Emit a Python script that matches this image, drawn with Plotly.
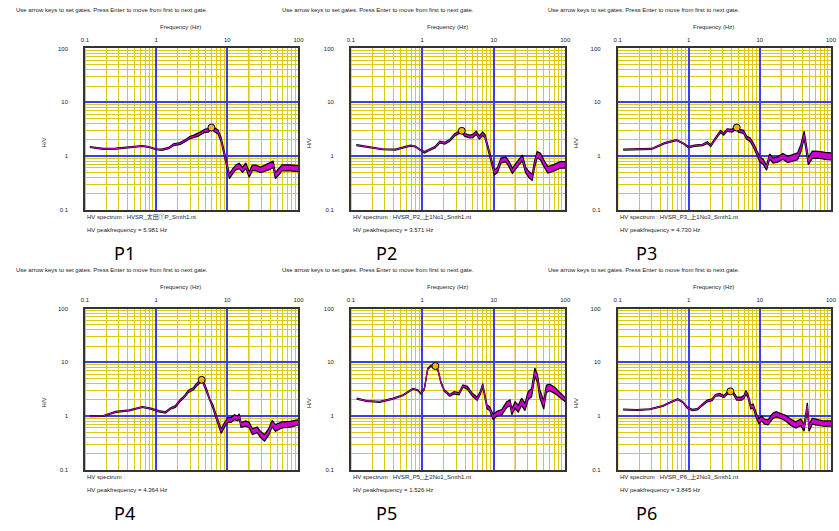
import plotly.graph_objects as go

W, H = 839, 531

# ---------------- data (freq Hz, H/V, band factor) ----------------
p1 = [(0.117,1.47,1.02),(0.18,1.35,1.02),(0.27,1.37,1.02),(0.42,1.47,1.02),(0.64,1.53,1.02),
      (0.79,1.47,1.02),(1.0,1.33,1.02),(1.21,1.30,1.03),(1.5,1.40,1.03),(1.76,1.62,1.04),
      (2.18,1.7,1.04),(2.69,2.0,1.04),(3.0,2.21,1.05),(3.33,2.3,1.05),(3.9,2.47,1.06),
      (4.35,2.7,1.06),(4.8,2.93,1.07),(5.4,3.0,1.08),(5.98,3.37,1.08),(6.6,3.05,1.08),
      (7.4,2.8,1.09),(8.2,2.0,1.09),(8.95,1.22,1.11),(9.6,0.8,1.11),(10.7,0.42,1.11),
      (11.9,0.52,1.11),(13.2,0.61,1.11),(14.7,0.65,1.12),(16.4,0.55,1.11),(18.2,0.66,1.12),
      (20.3,0.45,1.12),(22.5,0.6,1.12),(25.1,0.6,1.13),(29.4,0.55,1.13),(34.5,0.6,1.14),
      (40,0.64,1.14),(44,0.7,1.14),(47.4,0.43,1.14),(52.8,0.5,1.14),(58.7,0.6,1.14),
      (76.6,0.6,1.14),(100,0.58,1.14)]
p2 = [(0.12,1.59,1.02),(0.18,1.45,1.02),(0.275,1.33,1.02),(0.42,1.31,1.02),(0.55,1.45,1.02),
      (0.68,1.55,1.02),(0.8,1.5,1.02),(0.93,1.29,1.02),(1.07,1.17,1.03),(1.28,1.31,1.03),
      (1.5,1.45,1.03),(1.76,1.81,1.04),(2.07,1.73,1.04),(2.42,1.95,1.04),(2.84,2.47,1.05),
      (3.16,2.67,1.05),(3.57,2.93,1.06),(3.9,2.47,1.06),(4.58,2.3,1.06),(5.1,2.35,1.07),
      (5.67,2.7,1.07),(6.3,2.2,1.07),(7.0,2.6,1.08),(7.56,2.3,1.08),(8.2,1.5,1.09),
      (9.13,0.92,1.09),(10.2,0.49,1.11),(11.3,0.55,1.11),(12.6,0.82,1.11),(14.8,0.86,1.11),
      (16.4,0.7,1.12),(18.2,0.53,1.12),(20.3,0.64,1.12),(22.5,0.74,1.13),(25.1,0.92,1.13),
      (27.9,0.55,1.13),(31,0.45,1.14),(34.5,0.4,1.14),(37.2,0.7,1.15),(40.5,1.05,1.15),
      (45,0.98,1.15),(50,0.74,1.15),(56.9,0.55,1.15),(68.9,0.6,1.15),(85,0.68,1.15),
      (100,0.68,1.15)]
p3 = [(0.12,1.31,1.02),(0.197,1.31,1.02),(0.3,1.35,1.02),(0.46,1.73,1.02),(0.67,1.97,1.02),
      (0.83,1.73,1.02),(0.99,1.45,1.03),(1.2,1.55,1.03),(1.56,1.6,1.03),(1.83,1.77,1.04),
      (2.04,1.55,1.04),(2.39,2.14,1.04),(2.8,2.84,1.05),(3.1,2.55,1.05),(3.46,3.05,1.05),
      (4.06,2.95,1.06),(4.73,3.37,1.06),(5.0,2.95,1.07),(5.9,2.8,1.07),(6.5,2.2,1.07),
      (7.3,2.0,1.08),(8.1,1.6,1.09),(9.0,1.2,1.09),(10,0.86,1.11),(11.1,0.78,1.11),
      (12.4,0.6,1.11),(13.7,0.98,1.11),(15.3,0.82,1.11),(17.9,0.86,1.12),(21,0.98,1.13),
      (24.6,0.86,1.14),(28.9,0.92,1.15),(33.9,0.98,1.16),(37.7,1.4,1.17),(41.9,2.47,1.17),
      (44.2,1.6,1.17),(48,0.8,1.17),(54.6,1.05,1.17),(67.5,1.05,1.16),(83,1.0,1.16),
      (100,0.98,1.16)]
p4 = [(0.117,0.99,1.02),(0.18,1.0,1.02),(0.27,1.19,1.02),(0.42,1.27,1.02),(0.64,1.47,1.02),
      (0.84,1.37,1.02),(1.09,1.22,1.03),(1.35,1.16,1.03),(1.58,1.37,1.03),(1.86,1.5,1.04),
      (2.18,1.95,1.04),(2.5,2.3,1.04),(2.84,2.87,1.05),(3.33,3.2,1.05),(3.7,3.8,1.06),
      (4.364,4.7,1.06),(4.58,4.25,1.06),(5.1,3.0,1.07),(5.67,1.95,1.07),(6.3,1.47,1.08),
      (7.0,0.95,1.09),(7.55,0.68,1.09),(8.2,0.52,1.10),(9.1,0.68,1.10),(10.2,0.84,1.11),
      (11.3,0.84,1.11),(12.6,0.95,1.11),(14,0.9,1.11),(14.7,0.99,1.11),(15.6,0.68,1.11),
      (18.2,0.72,1.12),(20.3,0.68,1.12),(22.5,0.51,1.13),(26.3,0.55,1.13),(29.4,0.45,1.14),
      (33.4,0.39,1.15),(38.4,0.51,1.15),(42.6,0.72,1.15),(47.4,0.6,1.15),(58.7,0.68,1.14),
      (76.6,0.7,1.13),(100,0.76,1.12)]
p5 = [(0.121,2.1,1.02),(0.167,1.9,1.02),(0.255,1.83,1.02),(0.39,2.1,1.02),(0.537,2.42,1.02),
      (0.74,3.2,1.02),(0.865,3.0,1.02),(0.96,2.6,1.02),(1.07,3.2,1.03),(1.19,7.5,1.03),
      (1.32,8.6,1.03),(1.526,8.5,1.03),(1.67,6.9,1.04),(1.82,4.26,1.04),(2.02,3.0,1.04),
      (2.42,2.42,1.04),(2.78,2.7,1.05),(3.26,2.6,1.05),(3.7,3.6,1.05),(4.26,3.35,1.06),
      (4.99,2.5,1.06),(5.85,2.1,1.07),(6.5,2.7,1.07),(7.0,3.7,1.08),(7.48,2.42,1.08),
      (8.05,1.47,1.09),(8.77,1.37,1.09),(9.75,0.96,1.11),(11.1,1.1,1.11),(13,1.18,1.12),
      (15.2,1.63,1.13),(16.9,1.75,1.14),(17.9,1.2,1.14),(19.9,1.6,1.15),(22,1.37,1.16),
      (24.5,1.83,1.17),(27.3,1.47,1.17),(30.4,2.42,1.19),(33.8,2.7,1.19),(37.6,6.5,1.19),
      (40.9,5.0,1.19),(44,2.6,1.19),(50,1.6,1.19),(54.5,3.2,1.17),(60.6,3.4,1.15),
      (71,3.0,1.14),(83,2.5,1.11),(100,2.0,1.09)]
p6 = [(0.119,1.32,1.02),(0.185,1.29,1.02),(0.283,1.33,1.02),(0.43,1.53,1.02),(0.565,1.82,1.02),
      (0.7,2.05,1.02),(0.82,1.82,1.02),(0.96,1.41,1.03),(1.13,1.29,1.03),(1.32,1.33,1.03),
      (1.55,1.6,1.03),(1.82,1.9,1.04),(2.13,2.0,1.04),(2.37,2.42,1.04),(2.72,2.5,1.05),
      (3.1,2.3,1.05),(3.44,2.6,1.05),(3.845,2.87,1.06),(4.17,2.75,1.06),(4.73,2.1,1.07),
      (5.55,2.1,1.07),(6.03,2.3,1.07),(6.36,2.75,1.08),(6.85,2.3,1.08),(7.46,1.47,1.09),
      (8.05,1.53,1.09),(8.95,1.0,1.10),(9.65,0.8,1.11),(10.5,0.9,1.11),(11.7,0.78,1.11),
      (13,0.76,1.11),(15.2,1.0,1.12),(16.9,1.07,1.12),(19.9,1.0,1.12),(23.3,0.9,1.13),
      (27.3,0.76,1.14),(32,0.68,1.14),(37.6,0.76,1.15),(41.8,0.6,1.15),(46.5,1.53,1.15),
      (49,0.6,1.15),(54.5,0.8,1.14),(64,0.76,1.13),(79,0.72,1.12),(100,0.72,1.12)]
panels_data = [p1, p2, p3, p4, p5, p6]

panel_names = ["P1", "P2", "P3", "P4", "P5", "P6"]
file_labels = ["HV spectrum : HVSR_太田①P_Smth1.nt",
               "HV spectrum : HVSR_P2_上1No1_Smth1.nt",
               "HV spectrum : HVSR_P3_上1No3_Smth1.nt",
               "HV spectrum :",
               "HV spectrum : HVSR_P5_上2No1_Smth1.nt",
               "HV spectrum : HVSR_P6_上2No3_Smth1.nt"]
peak_freqs = [5.981, 3.571, 4.730, 4.364, 1.526, 3.845]
peak_hv = [3.37, 2.93, 3.37, 4.7, 8.5, 2.87]
tick_vals = [0.1, 1, 10, 100]
tick_text = ["0.1", "1", "10", "100"]
minor_vals = [m * d for d in (0.1, 1, 10) for m in range(2, 10)]
header = "Use arrow keys to set gates. Press Enter to move from first to next gate."

# ---------------- layout geometry (pixels) ----------------
col_x = [(82, 298), (351, 568), (621, 837)]
row_y = [(46, 209), (309, 472)]
name_x = [122, 387, 650]

YEL = "#d8cc10"
BLUE = "#3c3cf0"
ORANGE = "#e8a800"
MAG = "#cc00cc"
FONT = "Liberation Sans, Arial, Noto Sans CJK JP, sans-serif"
FS = 6

def px(x):
    return x / W

def py(y):
    return 1 - y / H

fig = go.Figure()
layout = dict(width=W, height=H, margin=dict(l=0, r=0, t=0, b=0),
              paper_bgcolor="white", plot_bgcolor="white", showlegend=False,
              font=dict(family=FONT, size=FS, color="#222"))
annotations = []
shapes = []

for i, data in enumerate(panels_data):
    r, c = divmod(i, 3)
    x0, x1 = col_x[c]
    y0, y1 = row_y[r]
    xn = "x" if i == 0 else f"x{i+1}"
    yn = "y" if i == 0 else f"y{i+1}"
    xk = "xaxis" if i == 0 else f"xaxis{i+1}"
    yk = "yaxis" if i == 0 else f"yaxis{i+1}"
    common = dict(type="log", range=[-1, 2], tickvals=tick_vals, ticktext=tick_text,
                  showgrid=True, gridcolor=BLUE, gridwidth=1.5,
                  minor=dict(tickvals=minor_vals, showgrid=True, gridcolor=YEL, gridwidth=1.2, ticks=""),
                  showline=True, mirror=True, linecolor="#333", linewidth=1.6,
                  ticks="", zeroline=False, fixedrange=True,
                  tickfont=dict(size=FS, family=FONT, color="#222"))
    layout[xk] = dict(common, domain=[px(x0), px(x1)], anchor=yn, side="top", ticklabelstandoff=2)
    layout[yk] = dict(common, domain=[py(y1), py(y0)], anchor=xn, ticklabelstandoff=14)

    f = [d[0] for d in data]
    hv = [d[1] for d in data]
    lo = [d[1] / d[2] for d in data]
    up = [d[1] * d[2] for d in data]
    fig.add_trace(go.Scatter(x=f, y=lo, mode="lines", line=dict(color="black", width=1.2),
                             xaxis=xn, yaxis=yn, hoverinfo="skip"))
    fig.add_trace(go.Scatter(x=f, y=up, mode="lines", line=dict(color="black", width=1.2),
                             fill="tonexty", fillcolor=MAG, xaxis=xn, yaxis=yn, hoverinfo="skip"))
    fig.add_trace(go.Scatter(x=f, y=hv, mode="lines", line=dict(color=MAG, width=1.0),
                             xaxis=xn, yaxis=yn, hoverinfo="skip"))
    fig.add_trace(go.Scatter(x=[peak_freqs[i]], y=[peak_hv[i]], mode="markers",
                             marker=dict(size=7, color="#f5b400", line=dict(color="black", width=1)),
                             xaxis=xn, yaxis=yn))

    for xv in (0.1, 20):
        shapes.append(dict(type="line", xref=xn, yref=f"{yn} domain", x0=xv, x1=xv, y0=0, y1=1,
                           line=dict(color=ORANGE, width=1.5), layer="below"))

    annotations += [
        dict(x=px(x0 - 72), y=py(y0 - 39), text=header, xanchor="left", yanchor="middle"),
        dict(x=px((x0 + x1) / 2 - 11), y=py(y0 - 22), text="Frequency (Hz)", xanchor="center", yanchor="middle"),
        dict(x=px(x0 - 42), y=py((y0 + y1) / 2 + 14), text="H/V", textangle=-90, xanchor="center", yanchor="middle"),
        dict(x=px(x0), y=py(y1 + 7), text=file_labels[i], xanchor="left", yanchor="middle"),
        dict(x=px(x0), y=py(y1 + 21), text=f"HV peakfrequency = {peak_freqs[i]:.3f} Hz", xanchor="left", yanchor="middle"),
        dict(x=px(name_x[c]), y=py(y1 + 44), text=panel_names[i], xanchor="center", yanchor="middle",
             font=dict(size=18, family="Noto Sans, sans-serif", color="black")),
    ]

for a in annotations:
    a.update(xref="paper", yref="paper", showarrow=False)
    a.setdefault("font", dict(size=FS, family=FONT, color="#222"))
layout["annotations"] = annotations
layout["shapes"] = shapes
fig.update_layout(**layout)
fig.write_html("out.html", config={"displayModeBar": False},
               post_script="document.body.style.margin='0px';document.body.style.overflow='hidden';")
